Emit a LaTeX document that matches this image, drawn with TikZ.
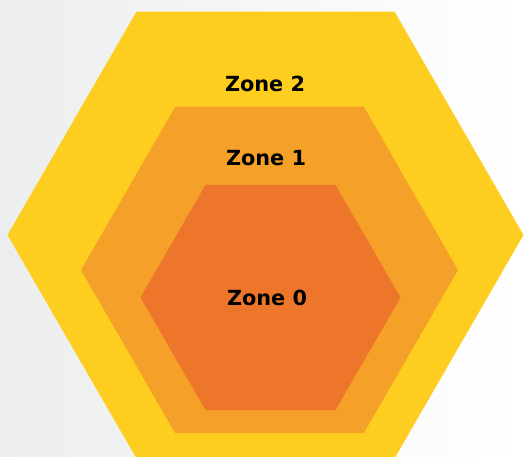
\documentclass[tikz,border=0pt]{standalone}
\usepackage{fontspec}
\setsansfont{DejaVu Sans}
\usepackage{tikz}
\usetikzlibrary{shapes.geometric}
\definecolor{zonetwo}{HTML}{FDCE20}
\definecolor{zoneone}{HTML}{F4A029}
\definecolor{zonezero}{HTML}{ED762B}
\definecolor{backdrop}{HTML}{ECEEEE}

\begin{document}
\begin{tikzpicture}[
    x=1pt, y=1pt,
    hexa/.style={regular polygon, regular polygon sides=6,
                 inner sep=0pt, outer sep=0pt, draw=none},
    zonelabel/.style={font=\sffamily\bfseries\fontsize{20.8}{24}\selectfont,
                      text=black}
  ]
  \useasboundingbox (0,0) rectangle (524,457);
  \shade[left color=backdrop, right color=white] (0,0) rectangle (524,457);

  \node[hexa, fill=zonetwo, minimum size=516pt] (z2) at (265.5, 222) {};
  \node[hexa, fill=zoneone, minimum size=377pt] (z1) at (269.5, 187) {};
  \node[hexa, fill=zonezero, minimum size=260pt] (z0) at (270.5, 159.5) {};

  \node[zonelabel] (l2) at (265, 373) {Zone 2};
  \node[zonelabel] (l1) at (266, 299) {Zone 1};
  \node[zonelabel] (l0) at (267, 159) {Zone 0};
\end{tikzpicture}
\end{document}
